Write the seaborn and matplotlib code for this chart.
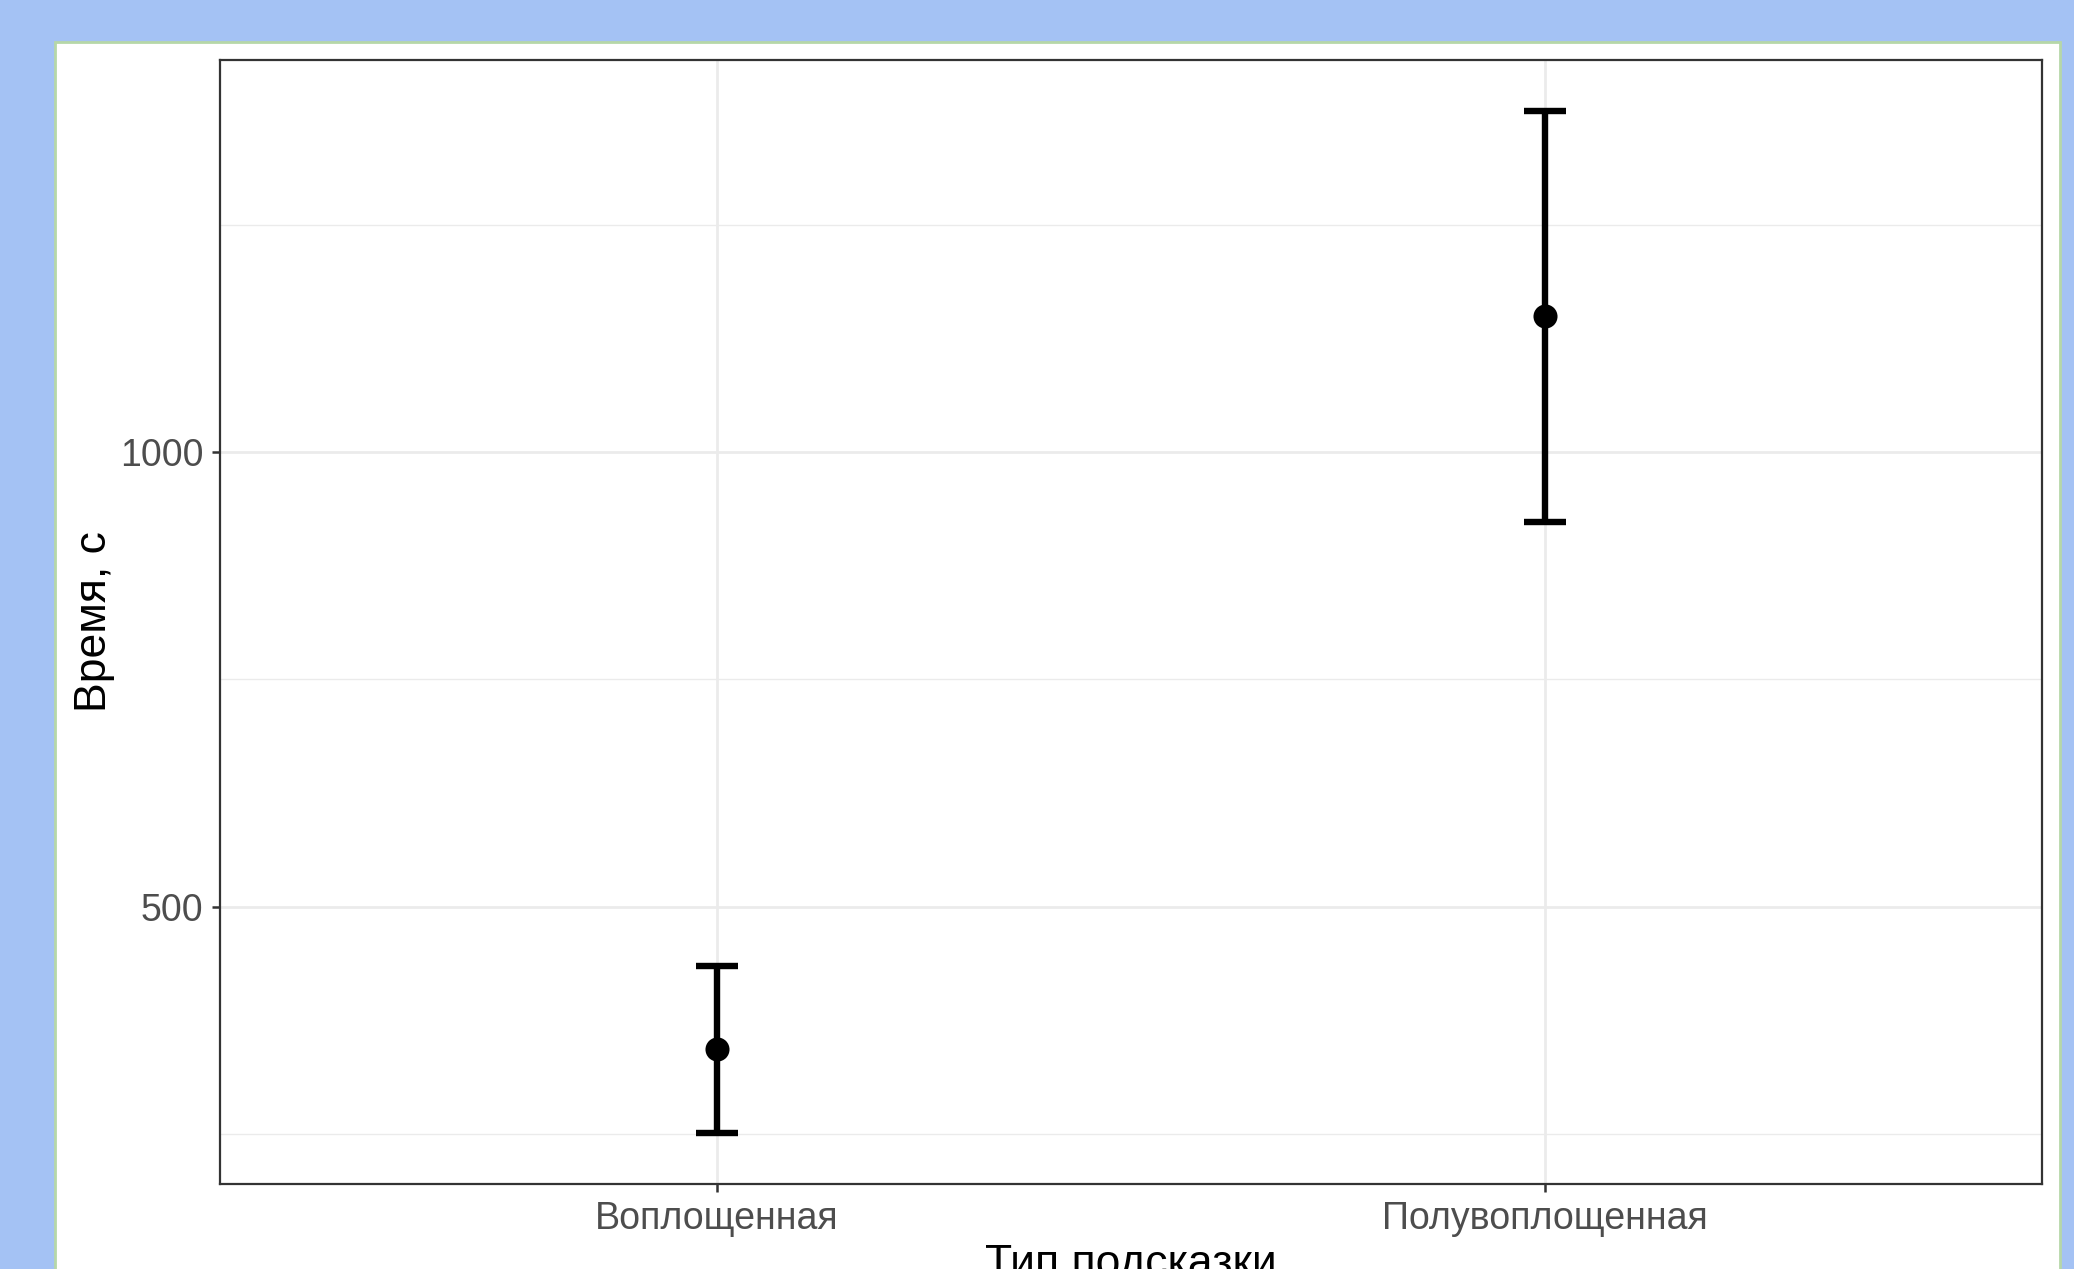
import matplotlib
matplotlib.use("Agg")
import matplotlib.pyplot as plt
import seaborn as sns
import pandas as pd
from matplotlib.patches import Rectangle

categories = ["Воплощенная", "Полувоплощенная"]
means = [343, 1150]
lower = [251, 923]
upper = [435, 1375]

df = pd.DataFrame({"cat": categories, "mean": means, "lo": lower, "hi": upper})

sns.set_theme(style="white")
plt.rcParams["font.family"] = ["Liberation Sans", "DejaVu Sans"]

W, H = 2074, 1269
fig = plt.figure(figsize=(W / 100, H / 100), dpi=100, facecolor="#a4c2f4")
fig.patches.append(Rectangle((55 / W, -0.01), (2060 - 55) / W, (H - 42) / H + 0.01,
                             transform=fig.transFigure, facecolor="white",
                             edgecolor="#b6d7a8", linewidth=2, zorder=-10))

L, R, T, B = 219.6, 2042, 59.5, 1184
ax = fig.add_axes([L / W, (H - B) / H, (R - L) / W, (B - T) / H])
ax.set_zorder(5)
ax.set_facecolor("white")

sns.scatterplot(data=df, x="cat", y="mean", ax=ax, color="black", s=300,
                edgecolor="black", linewidth=0, zorder=4)
ax.errorbar(df["cat"], df["mean"],
            yerr=[df["mean"] - df["lo"], df["hi"] - df["mean"]],
            fmt="none", ecolor="black", elinewidth=4.6, capsize=15, capthick=4.6,
            zorder=3)

ax.set_xlim(-0.6, 1.6)
ax.set_ylim(195, 1432)
ax.set_yticks([500, 1000])
ax.set_yticks([250, 750, 1250], minor=True)
ax.grid(True, which="major", color="#ebebeb", linewidth=2.0, zorder=0)
ax.grid(True, which="minor", axis="y", color="#ebebeb", linewidth=1.0, zorder=0)
ax.set_axisbelow(True)

for s in ax.spines.values():
    s.set_color("#333333")
    s.set_linewidth(1.6)

ax.tick_params(axis="both", which="major", length=6, width=1.8, color="#333333",
               labelsize=27, labelcolor="#4d4d4d", direction="out")
ax.tick_params(axis="x", which="major", pad=6)
ax.tick_params(axis="y", which="major", pad=5.5)
ax.tick_params(axis="both", which="minor", length=0)
ax.tick_params(left=True, bottom=True)

ax.set_xlabel("Тип подсказки", fontsize=32, color="black", labelpad=5)
ax.set_ylabel("Время, с", fontsize=32, color="black", labelpad=4)

fig.savefig("out.png", dpi=100, facecolor=fig.get_facecolor())
